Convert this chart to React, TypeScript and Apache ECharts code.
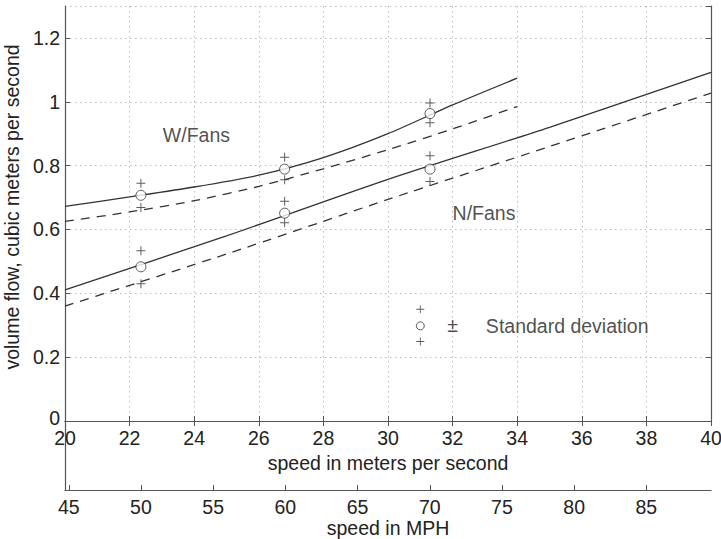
import React, { useEffect, useRef } from "react";
import * as echarts from "echarts";

// ---- data ----
const MPH_PER_MS = 2.23694;
const xTicksMs = [20, 40]; // extent of the m/s axis
const mphTicks = [45, 50, 55, 60, 65, 70, 75, 80, 85];

// fitted curves
const wFitX = [20, 22, 24, 26, 28, 30, 32, 34];
const wFitSolid = [0.672, 0.702, 0.733, 0.77, 0.825, 0.9, 0.99, 1.074];
const wFitDashed = [0.625, 0.655, 0.69, 0.735, 0.79, 0.85, 0.915, 0.985];
const nFitX = [20, 25, 30, 35, 40];
const nFitSolid = [0.411, 0.58, 0.757, 0.92, 1.092];
const nFitDashed = [0.36, 0.523, 0.694, 0.86, 1.027];

// measured points
const speedsMs = [22.35, 26.8, 31.3];
const wMean = [0.707, 0.789, 0.963];
const wUpper = [0.745, 0.826, 0.996];
const wLower = [0.669, 0.756, 0.934];
const nMean = [0.483, 0.651, 0.789];
const nUpper = [0.533, 0.688, 0.831];
const nLower = [0.43, 0.621, 0.75];

// standard deviation key
const keyX = [31];
const keyMean = [0.298];
const keyUpper = [0.35];
const keyLower = [0.249];

// text annotations [x, y, text, align]
const notes: [number, number, string, string][] = [
  [23.03, 0.897, "W/Fans", "left"],
  [32.0, 0.652, "N/Fans", "left"],
  [32.0, 0.302, "±", "center"],
  [33.03, 0.299, "Standard deviation", "left"],
];

const FONT = "'Liberation Sans', Arial, Helvetica, sans-serif";
const INK = "#333";
const AXIS = "#555";
const FS = 19.5;
const PLUS = "path://M4.45,0H5.55V10H4.45Z M0,4.45H10V5.55H0Z";

const zip = (xs: number[], ys: number[]) => xs.map((x, i) => [x, ys[i]]);

export default function App() {
  const ref = useRef<HTMLDivElement>(null);
  useEffect(() => {
    if (!ref.current) return;
    const chart = echarts.init(ref.current, null, { renderer: "svg" });
    const gridLine = { show: true, lineStyle: { color: "#bdbdbd", type: [1.5, 3.5] as any, width: 1 } };
    const tick = { show: true, inside: true, length: 5, lineStyle: { color: AXIS } };
    const axisLine = { show: true, lineStyle: { color: AXIS, width: 1.2 } };
    const label = { color: "#222", fontSize: FS, fontFamily: FONT, lineHeight: 16 };
    const nameStyle = { color: "#222", fontSize: FS, fontFamily: FONT, lineHeight: 20 };

    const lineSeries = (xs: number[], ys: number[], dashed: boolean) => ({
      type: "line",
      xAxisIndex: 0,
      yAxisIndex: 0,
      data: zip(xs, ys),
      smooth: 0.25,
      showSymbol: false,
      lineStyle: { color: INK, width: 1.3, type: dashed ? [9, 7] : "solid" },
      z: 3,
    });
    const scatter = (xs: number[], ys: number[], symbol: string, size: number) => ({
      type: "scatter",
      xAxisIndex: 0,
      yAxisIndex: 0,
      data: zip(xs, ys),
      symbol,
      symbolSize: size,
      itemStyle:
        symbol === "circle"
          ? { color: "#fff", borderColor: INK, borderWidth: 1 }
          : { color: INK },
      z: 5,
    });

    chart.setOption({
      animation: false,
      backgroundColor: "#fff",
      textStyle: { fontFamily: FONT },
      grid: [
        { left: 65, top: 6, width: 646, height: 415, containLabel: false, outerBoundsMode: "none" },
        { left: 65, top: 421, width: 646, height: 69, containLabel: false, outerBoundsMode: "none" },
      ],
      xAxis: [
        {
          gridIndex: 0,
          type: "value",
          position: "bottom",
          min: xTicksMs[0],
          max: xTicksMs[1],
          interval: 2,
          axisLine,
          axisTick: tick,
          axisLabel: { ...label, margin: 9 },
          splitLine: gridLine,
          name: "speed in meters per second",
          nameLocation: "middle",
          nameGap: 27,
          nameTextStyle: nameStyle,
        },
        {
          gridIndex: 0,
          type: "value",
          position: "top",
          min: xTicksMs[0],
          max: xTicksMs[1],
          interval: 2,
          axisLine,
          axisTick: tick,
          axisLabel: { show: false },
          splitLine: { show: false },
        },
        {
          gridIndex: 1,
          type: "value",
          position: "bottom",
          min: xTicksMs[0] * MPH_PER_MS,
          max: xTicksMs[1] * MPH_PER_MS,
          axisLine,
          axisTick: { ...tick, customValues: mphTicks },
          axisLabel: { ...label, margin: 9, customValues: mphTicks },
          splitLine: { show: false },
          name: "speed in MPH",
          nameLocation: "middle",
          nameGap: 27,
          nameTextStyle: nameStyle,
        },
      ],
      yAxis: [
        {
          gridIndex: 0,
          type: "value",
          min: 0,
          max: 1.3,
          interval: 0.2,
          axisLine,
          axisTick: tick,
          axisLabel: {
            ...label,
            lineHeight: 14,
            margin: 5,
            showMaxLabel: false,
            formatter: (v: number) => (v === 0 ? "{z|0}" : String(v)),
            rich: { z: { fontSize: FS, fontFamily: FONT, color: "#222", lineHeight: 14, padding: [0, 0, 6, 0] } },
          },
          splitLine: gridLine,
          name: "volume flow, cubic meters per second",
          nameLocation: "middle",
          nameGap: 33,
          nameTextStyle: { ...nameStyle, width: 400, overflow: "none", padding: [0, 0, 0, 13] },
        },
        {
          gridIndex: 0,
          type: "value",
          position: "right",
          min: 0,
          max: 1.3,
          interval: 0.2,
          axisLine,
          axisTick: tick,
          axisLabel: { show: false },
          splitLine: { show: false },
        },
        {
          gridIndex: 1,
          type: "value",
          min: 0,
          max: 1,
          axisLine,
          axisTick: { show: false },
          axisLabel: { show: false },
          splitLine: { show: false },
        },
      ],
      series: [
        lineSeries(wFitX, wFitSolid, false),
        lineSeries(wFitX, wFitDashed, true),
        lineSeries(nFitX, nFitSolid, false),
        lineSeries(nFitX, nFitDashed, true),
        scatter(speedsMs, wMean, "circle", 10),
        scatter(speedsMs, wUpper, PLUS, 9),
        scatter(speedsMs, wLower, PLUS, 9),
        scatter(speedsMs, nMean, "circle", 10),
        scatter(speedsMs, nUpper, PLUS, 9),
        scatter(speedsMs, nLower, PLUS, 9),
        scatter(keyX, keyMean, "circle", 8),
        scatter(keyX, keyUpper, PLUS, 8),
        scatter(keyX, keyLower, PLUS, 8),
        {
          type: "scatter",
          xAxisIndex: 0,
          yAxisIndex: 0,
          symbolSize: 0,
          silent: true,
          data: notes.map(([x, y, t, a]) => ({
            value: [x, y],
            label: {
              show: true,
              formatter: t,
              position: "inside",
              align: a,
              verticalAlign: "middle",
              color: "#222",
              fontSize: FS,
              fontFamily: FONT,
            },
          })),
          z: 6,
        },
      ],
    });
    return () => chart.dispose();
  }, []);
  return <div ref={ref} style={{ width: 721, height: 539, position: "absolute", left: 0, top: 0 }} />;
}
